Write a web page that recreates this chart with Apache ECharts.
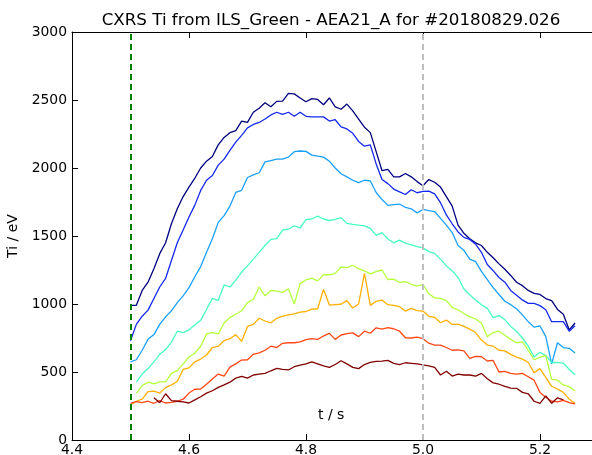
<!DOCTYPE html>
<html>
<head>
<meta charset="utf-8">
<script src="https://cdn.jsdelivr.net/npm/echarts@6/dist/echarts.min.js"></script>
<style>
html,body{margin:0;padding:0;background:#fff;}
#chart{width:592px;height:455px;}
</style>
</head>
<body>
<div id="chart"></div>
<script>
// Time base (s)
var times = [4.50,4.51,4.52,4.53,4.54,4.55,4.56,4.57,4.58,4.59,
  4.60,4.61,4.62,4.63,4.64,4.65,4.66,4.67,4.68,4.69,
  4.70,4.71,4.72,4.73,4.74,4.75,4.76,4.77,4.78,4.79,
  4.80,4.81,4.82,4.83,4.84,4.85,4.86,4.87,4.88,4.89,
  4.90,4.91,4.92,4.93,4.94,4.95,4.96,4.97,4.98,4.99,
  5.00,5.01,5.02,5.03,5.04,5.05,5.06,5.07,5.08,5.09,
  5.10,5.11,5.12,5.13,5.14,5.15,5.16,5.17,5.18,5.19,
  5.20,5.21,5.22,5.23,5.24,5.25,5.26];

// Ti (eV) per channel
var ch1 = [990,990,1100,1160,1260,1370,1450,1590,1700,1790,
  1860,1925,2000,2050,2085,2170,2225,2260,2275,2345,
  2335,2410,2440,2480,2450,2490,2492,2548,2545,2515,
  2487,2510,2504,2465,2515,2450,2432,2470,2420,2360,
  2300,2260,2120,1980,1990,1935,1935,1960,1935,1900,
  1870,1915,1895,1860,1790,1720,1580,1520,1480,1450,
  1430,1380,1340,1295,1255,1210,1160,1135,1100,1078,
  1070,1040,1025,960,925,810,860];
var ch2 = [730,850,910,955,1040,1125,1188,1320,1450,1544,
  1640,1727,1835,1910,1945,2021,2065,2130,2190,2240,
  2295,2320,2335,2360,2390,2410,2395,2410,2381,2410,
  2380,2376,2376,2376,2345,2355,2303,2287,2255,2195,
  2160,2170,2030,1915,1885,1845,1825,1805,1840,1818,
  1828,1830,1810,1745,1655,1590,1530,1490,1475,1440,
  1380,1290,1245,1195,1160,1100,1065,1030,1005,1005,
  988,958,870,870,870,800,840];
var ch3 = [575,590,660,740,775,850,905,950,1010,1060,
  1120,1200,1275,1380,1480,1600,1650,1720,1820,1836,
  1930,1950,1965,2045,2055,2065,2065,2080,2120,2125,
  2122,2095,2087,2080,2050,2000,1958,1935,1910,1892,
  1910,1905,1820,1768,1725,1730,1735,1710,1700,1670,
  1695,1686,1680,1630,1580,1525,1430,1395,1330,1312,
  1240,1180,1120,1070,1020,995,965,920,870,830,
  840,760,560,715,680,674,640];
var ch4 = [null,428,485,525,575,630,665,720,800,790,
  810,845,880,960,1041,1025,1140,1125,1176,1235,
  1280,1330,1380,1430,1475,1480,1544,1550,1575,1560,
  1620,1625,1646,1625,1614,1622,1635,1593,1586,1580,
  1575,1556,1505,1525,1478,1450,1470,1448,1435,1422,
  1413,1385,1372,1330,1280,1245,1195,1110,1068,1030,
  995,968,900,915,885,835,800,750,690,610,
  645,620,570,570,564,520,480];
var ch5 = [null,343,400,425,412,428,428,490,510,560,
  610,640,690,780,790,780,860,900,925,950,
  1010,1035,1125,1060,1100,1095,1085,1112,1000,1150,
  1178,1190,1170,1215,1215,1225,1272,1268,1285,1260,
  1244,1222,1238,1250,1180,1183,1158,1165,1145,1132,
  1145,1075,1045,1041,1025,975,956,930,905,890,
  860,760,790,800,770,740,715,722,660,590,
  610,620,446,440,405,392,360];
var ch6 = [257,285,300,355,360,345,385,405,430,520,
  530,575,595,625,680,690,730,745,775,725,
  835,850,895,875,862,895,911,920,928,940,
  945,962,965,1108,992,995,998,1025,970,1000,
  1225,990,1020,1029,995,990,980,948,968,952,
  948,910,902,862,882,850,852,835,815,790,
  735,698,690,660,655,630,610,595,570,495,
  525,460,395,375,350,300,270];
var ch7 = [270,282,275,285,270,290,272,276,285,300,
  345,373,375,410,448,485,470,536,560,588,
  590,630,640,660,690,680,711,715,715,722,
  738,745,740,765,784,740,772,782,788,760,
  800,785,825,815,826,818,800,752,750,757,
  745,712,698,698,680,660,662,655,600,615,
  612,581,585,500,505,490,485,490,465,440,
  350,315,285,280,292,275,265];
var ch8 = [null,null,null,null,310,274,340,290,285,280,
  272,295,318,345,362,387,405,425,455,468,
  455,478,485,490,509,527,520,515,539,550,
  560,575,560,545,534,555,583,560,534,525,
  555,570,578,580,585,564,555,568,564,560,
  552,545,534,478,505,470,485,478,478,470,
  490,450,420,410,395,382,380,350,340,285,
  270,325,270,310,295,null,null];

var channels = [ch1, ch2, ch3, ch4, ch5, ch6, ch7, ch8];
var colors = ['#000080','#1428f0','#19a0ff','#46ffbe','#b4ff3c','#ffb000','#ff4614','#800000'];

// Reference markers (s)
var beamStart = 4.5;
var refTime = 5.0;

// Axis ticks
var xTicks = [4.4, 4.6, 4.8, 5.0, 5.2];
var yTicks = [0, 500, 1000, 1500, 2000, 2500, 3000];

var titleText = 'CXRS Ti from ILS_Green - AEA21_A for #20180829.026';

var FONT = 'DejaVu Sans';

function pairs(arr) {
  var out = [];
  for (var i = 0; i < times.length; i++) {
    if (arr[i] !== null && arr[i] !== undefined) out.push([times[i], arr[i]]);
  }
  return out;
}

var series = channels.map(function (c, i) {
  return {
    type: 'line',
    data: pairs(c),
    showSymbol: false,
    symbol: 'none',
    lineStyle: { color: colors[i], width: 1.3 },
    itemStyle: { color: colors[i] },
    animation: false,
    z: 2
  };
});
series.push({
  type: 'line',
  data: [],
  silent: true,
  animation: false,
  markLine: {
    silent: true,
    symbol: ['none', 'none'],
    label: { show: false },
    animation: false,
    z: 5,
    data: [
      { xAxis: beamStart, lineStyle: { color: '#008000', type: [6, 4], width: 2 } },
      { xAxis: refTime, lineStyle: { color: '#bebebe', type: [6, 4], width: 2 } }
    ]
  }
});

var xMin = xTicks[0], xMax = 5.289;
var chart = echarts.init(document.getElementById('chart'), null, { renderer: 'canvas' });
chart.setOption({
  animation: false,
  backgroundColor: '#ffffff',
  title: {
    text: titleText,
    left: 331,
    top: 12,
    padding: 0,
    textAlign: 'center',
    textStyle: { fontFamily: FONT, fontSize: 16.7, fontWeight: 'normal', color: '#000' }
  },
  graphic: [{
    type: 'text',
    left: 331 - 13,
    top: 408,
    style: { text: 't / s', fontFamily: FONT, fontSize: 14, fill: '#000' }
  }],
  grid: { left: 72, right: 0, top: 32, bottom: 15, containLabel: false, outerBoundsMode: 'none' },
  xAxis: [{
    type: 'value',
    min: xMin, max: xMax, interval: 0.2,
    axisLine: { show: true, lineStyle: { color: '#000', width: 1 } },
    axisTick: { show: true, inside: true, length: 6, lineStyle: { color: '#000' } },
    axisLabel: {
      showMaxLabel: false, margin: 3,
      fontFamily: FONT, fontSize: 13.9, color: '#000',
      formatter: function (v) { return v.toFixed(1); }
    },
    splitLine: { show: false }
  }, {
    type: 'value', position: 'top',
    min: xMin, max: xMax, interval: 0.2,
    axisLine: { show: true, onZero: false, lineStyle: { color: '#000', width: 1 } },
    axisTick: { show: true, inside: true, length: 6, lineStyle: { color: '#000' } },
    axisLabel: { show: false },
    splitLine: { show: false }
  }],
  yAxis: {
    type: 'value',
    min: yTicks[0], max: yTicks[yTicks.length - 1], interval: 500,
    name: 'Ti / eV',
    nameLocation: 'middle',
    nameGap: 48,
    nameRotate: 90,
    nameTextStyle: { fontFamily: FONT, fontSize: 14, color: '#000' },
    axisLine: { show: true, lineStyle: { color: '#000', width: 1 } },
    axisTick: { show: true, inside: true, length: 6, lineStyle: { color: '#000' } },
    axisLabel: {
      margin: 5, fontFamily: FONT, fontSize: 13.9, color: '#000',
      formatter: function (v) { return String(v); }
    },
    splitLine: { show: false }
  },
  series: series
});
</script>
</body>
</html>
